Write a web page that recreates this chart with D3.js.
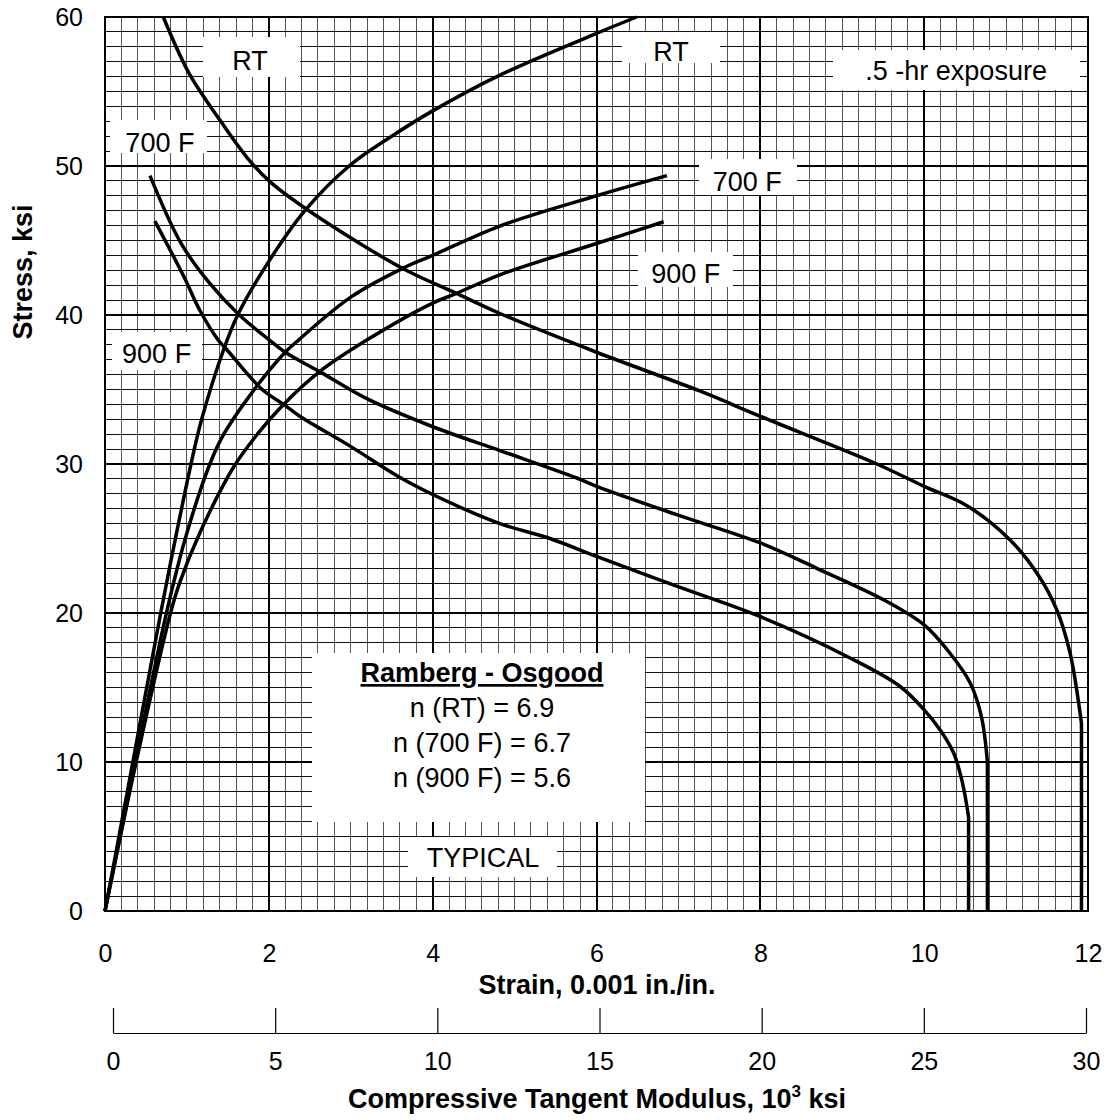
<!DOCTYPE html>
<html><head><meta charset="utf-8">
<script src="https://cdn.jsdelivr.net/npm/d3@7"></script>
<style>body{margin:0;background:#fff}svg{display:block}text{font-family:"Liberation Sans",Arial,sans-serif;fill:#000}</style>
</head><body><svg id="c" width="1111" height="1120"></svg>
<script>
// ---- tick labels ----
const strainTicks = [0, 2, 4, 6, 8, 10, 12];
const stressTicks = [0, 10, 20, 30, 40, 50, 60];
const modulusTicks = [0, 5, 10, 15, 20, 25, 30];

// ---- stress-strain curves (strain 0.001 in/in, stress ksi) ----
const rtStrain   = [0, 0.34, 0.68, 0.86, 1.05, 1.18, 1.45, 1.62, 2.0, 2.44, 2.98, 3.5, 4.0, 4.82, 6.0, 6.49];
const rtStress   = [0, 10, 20, 25, 30, 33, 37.7, 40, 43.6, 47.0, 50, 52.0, 53.7, 56.1, 58.9, 60];
const f700Strain = [0, 0.37, 0.75, 0.98, 1.28, 1.45, 1.85, 2.2, 2.38, 3.0, 3.64, 4.0, 4.82, 6.0, 6.86];
const f700Stress = [0, 10, 20, 25, 30, 32.0, 35.2, 37.5, 38.4, 41.2, 43.15, 44.0, 45.97, 48.0, 49.35];
const f900Strain = [0, 0.38, 0.80, 0.91, 1.16, 1.57, 1.86, 2.18, 2.62, 3.19, 4.0, 4.27, 4.82, 6.0, 6.82];
const f900Stress = [0, 10, 20, 22, 25.4, 29.8, 32.0, 34.0, 36.2, 38.3, 40.8, 41.4, 42.7, 44.8, 46.26];

// ---- tangent modulus curves (modulus 10^3 ksi, stress ksi) ----
const rtTanModulus = [1.55, 2.35, 3.29, 4.12, 4.81, 5.97, 8.95, 10.54, 11.93, 14.91, 18.09, 19.96, 23.50, 25.01, 26.33, 27.66, 28.57, 29.10, 29.51, 29.86, 29.86];
const rtTanStress  = [60, 56.2, 53.1, 50.6, 49.0, 47.1, 43.1, 41.5, 40.1, 37.5, 34.9, 33.2, 30.05, 28.5, 27.2, 24.9, 22.4, 20.2, 17.3, 12.6, 0];
const f700TanModulus = [1.14, 2.1, 2.99, 3.87, 4.83, 5.31, 6.37, 7.81, 9.86, 11.93, 14.30, 14.91, 17.38, 19.96, 21.70, 23.75, 25.01, 25.77, 26.43, 26.78, 26.96, 26.96];
const f700TanStress  = [49.35, 44.8, 42.1, 40.05, 38.3, 37.5, 36.2, 34.4, 32.5, 30.9, 29.06, 28.5, 26.6, 24.7, 23.0, 20.9, 19.2, 17.4, 15.3, 13.0, 10.0, 0];
const f900TanModulus = [1.29, 2.18, 2.68, 3.25, 3.5, 4.6, 5.26, 5.76, 7.31, 8.85, 10.2, 11.93, 13.47, 14.91, 17.38, 19.96, 22.71, 24.25, 25.01, 25.52, 25.92, 26.17, 26.38, 26.38];
const f900TanStress  = [46.3, 42.6, 40.3, 38.3, 37.7, 35.0, 34.0, 33.2, 31.2, 29.1, 27.6, 26.0, 25.0, 23.8, 21.8, 19.75, 17.0, 15.1, 13.5, 12.1, 10.6, 8.8, 6.3, 0];

// ---- annotations ----
const curveLabels = [
  {text: "RT", x: 1.77, y: 57.1},
  {text: "700 F", x: 0.67, y: 51.6},
  {text: "900 F", x: 0.63, y: 37.4},
  {text: "RT", x: 6.91, y: 57.7},
  {text: "700 F", x: 7.84, y: 49.0},
  {text: "900 F", x: 7.09, y: 42.8},
  {text: ".5 -hr exposure", x: 10.39, y: 56.4}
];
const roTitle = "Ramberg - Osgood";
const roLines = ["n (RT) = 6.9", "n (700 F) = 6.7", "n (900 F) = 5.6"];
const typicalText = "TYPICAL";

const svg = d3.select("#c");
const x = d3.scaleLinear([0, 12], [105, 1088]);
const y = d3.scaleLinear([0, 60], [911, 17]);
const xMod = d3.scaleLinear([0, 30], [113, 1086]);

// grid
const g = svg.append("g").attr("shape-rendering", "crispEdges");
const minorX = d3.range(0, 60.5, 1).map(i => i / 5).filter(v => Math.round(v * 5) % 10 !== 0);
const minorY = d3.range(0, 61, 1).filter(v => v % 10 !== 0);
g.selectAll(".vx").data(minorX).join("line")
  .attr("x1", d => x(d)).attr("x2", d => x(d)).attr("y1", y(0)).attr("y2", y(60))
  .attr("stroke", "#555").attr("stroke-width", 1);
g.selectAll(".hy").data(minorY).join("line")
  .attr("x1", x(0)).attr("x2", x(12)).attr("y1", d => y(d)).attr("y2", d => y(d))
  .attr("stroke", "#111").attr("stroke-width", 1);
g.selectAll(".mx").data(strainTicks).join("line")
  .attr("x1", d => x(d)).attr("x2", d => x(d)).attr("y1", y(0)).attr("y2", y(60))
  .attr("stroke", "#000").attr("stroke-width", 2);
g.selectAll(".my").data(stressTicks).join("line")
  .attr("x1", x(0)).attr("x2", x(12)).attr("y1", d => y(d)).attr("y2", d => y(d))
  .attr("stroke", "#000").attr("stroke-width", 2);

// label boxes (white, covering grid)
const boxes = [
  [203, 37, 97, 40], [110, 120, 97, 33], [112, 332, 90, 38],
  [622, 32, 98, 31], [699, 159, 98, 36], [638, 252, 95, 35],
  [833, 50, 247, 40], [312, 653, 333, 169], [408, 837, 149, 40]
];
svg.append("g").selectAll("rect").data(boxes).join("rect")
  .attr("x", d => d[0]).attr("y", d => d[1]).attr("width", d => d[2]).attr("height", d => d[3])
  .attr("fill", "#fff");

// curves
const asc = d3.line().x(d => x(d[0])).y(d => y(d[1])).curve(d3.curveCatmullRom.alpha(0.5));
const tanCurve = d3.line().x(d => xMod(d[0])).y(d => y(d[1])).curve(d3.curveCatmullRom.alpha(0.5));
const ascSets = [[rtStrain, rtStress], [f700Strain, f700Stress], [f900Strain, f900Stress]];
const tanSets = [[rtTanModulus, rtTanStress], [f700TanModulus, f700TanStress], [f900TanModulus, f900TanStress]];
const cg = svg.append("g").attr("fill", "none").attr("stroke", "#000").attr("stroke-width", 3.5)
  .attr("stroke-linejoin", "round");
ascSets.forEach(([a, b]) => cg.append("path").attr("d", asc(d3.zip(a, b))));
tanSets.forEach(([a, b]) => {
  const pts = d3.zip(a, b);
  const last = pts[pts.length - 1];
  cg.append("path").attr("d", tanCurve(pts.slice(0, -1)) + `L${xMod(last[0])},${y(last[1])}`);
});

// frame
svg.append("rect").attr("x", x(0)).attr("y", y(60)).attr("width", x(12) - x(0)).attr("height", y(0) - y(60))
  .attr("fill", "none").attr("stroke", "#000").attr("stroke-width", 2);

// curve labels
svg.append("g").selectAll("text").data(curveLabels).join("text")
  .attr("x", d => x(d.x)).attr("y", d => y(d.y)).attr("dy", "0.36em")
  .attr("text-anchor", "middle").attr("font-size", 27).text(d => d.text);

// Ramberg-Osgood box text
svg.append("text").attr("x", 482).attr("y", 682).attr("text-anchor", "middle")
  .attr("font-size", 27).attr("font-weight", "bold").attr("text-decoration", "underline").text(roTitle);
svg.append("g").selectAll("text").data(roLines).join("text")
  .attr("x", 482).attr("y", (d, i) => 717 + i * 35).attr("text-anchor", "middle")
  .attr("font-size", 27).text(d => d);
svg.append("text").attr("x", 483).attr("y", 867).attr("text-anchor", "middle")
  .attr("font-size", 27).text(typicalText);

// axes
const ax = svg.append("g").attr("transform", `translate(0,${y(0)})`)
  .call(d3.axisBottom(x).tickValues(strainTicks).tickSize(0).tickPadding(33).tickFormat(d3.format("d")));
const ay = svg.append("g").attr("transform", `translate(${x(0)},0)`)
  .call(d3.axisLeft(y).tickValues(stressTicks).tickSize(0).tickPadding(22).tickFormat(d3.format("d")));
[ax, ay].forEach(a => { a.select(".domain").remove(); a.selectAll("text").attr("font-size", 25).attr("font-family", null); });

const am = svg.append("g").attr("transform", "translate(0,1033)")
  .call(d3.axisBottom(xMod).tickValues(modulusTicks).tickSize(-25).tickSizeOuter(0).tickPadding(19).tickFormat(d3.format("d")));
am.selectAll("text").attr("font-size", 25).attr("font-family", null);
am.selectAll("line, path").attr("stroke", "#000").attr("stroke-width", 1.2);

// titles
svg.append("text").attr("x", 597).attr("y", 994).attr("text-anchor", "middle")
  .attr("font-size", 27).attr("font-weight", "bold").text("Strain, 0.001 in./in.");
const mt = svg.append("text").attr("x", 597).attr("y", 1108).attr("text-anchor", "middle")
  .attr("font-size", 27).attr("font-weight", "bold");
mt.append("tspan").text("Compressive Tangent Modulus, 10");
mt.append("tspan").attr("font-size", 17).attr("dy", -11).text("3");
mt.append("tspan").attr("dy", 11).text(" ksi");
svg.append("text").attr("transform", "translate(32,272) rotate(-90)").attr("text-anchor", "middle")
  .attr("font-size", 27).attr("font-weight", "bold").text("Stress, ksi");
</script></body></html>
